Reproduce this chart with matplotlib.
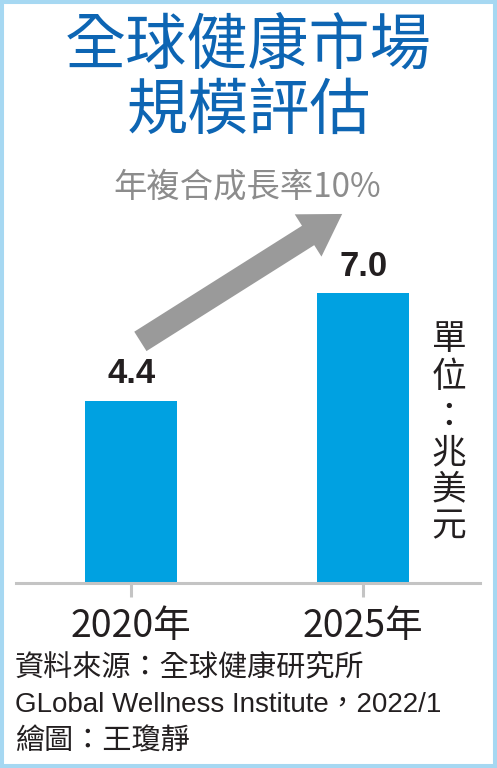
import matplotlib.pyplot as plt
from matplotlib.patches import FancyArrowPatch, Rectangle

plt.rcParams['font.family'] = ['Noto Sans CJK TC', 'DejaVu Sans']

# data
years = ['2020年', '2025年']
values = [4.4, 7.0]
title = '全球健康市場\n規模評估'
subtitle = '年複合成長率10%'
unit_chars = ['單', '位', '：', '兆', '美', '元']
footer = ['資料來源：全球健康研究所',
          'GLobal Wellness Institute，2022/1',
          '繪圖：王瓊靜']

W, H = 497, 768
fig = plt.figure(figsize=(W / 100, H / 100), dpi=100)
fig.patch.set_facecolor('white')

# frame
fig.patches.append(Rectangle((0, 0), 1, 1, transform=fig.transFigure,
                             fill=False, edgecolor='#a6d8f2', linewidth=5.8))

def fx(px):
    return px / W

def fy(py):
    return 1 - py / H

# bars axes: baseline at 583px, 41.4 px per unit
ax = fig.add_axes([fx(16), fy(583), fx(464), 383 / H])
xs = range(len(values))
ax.bar(xs, values, width=0.4, color='#00a1e1', zorder=2)
ax.set_xlim(-0.496, 1.504)
ax.set_ylim(0, 383 / 41.4)
for s in ['top', 'right', 'left']:
    ax.spines[s].set_visible(False)
ax.spines['bottom'].set_color('#c4c4c4')
ax.spines['bottom'].set_linewidth(2.2)
ax.set_yticks([])
ax.set_xticks(list(xs))
ax.set_xticklabels(years, fontsize=27, color='#231f20', fontweight='medium')
ax.tick_params(axis='x', length=10, width=2.2, color='#c4c4c4', pad=7)

for x, v in zip(xs, values):
    ax.text(x, v + 0.25, f'{v:.1f}', ha='center', va='bottom', fontsize=25,
            fontweight='bold', family='Liberation Sans', color='#231f20')

# growth arrow
arr = FancyArrowPatch((0.03, values[0] + 1.4), (0.92, values[1] + 1.95),
                      arrowstyle='simple,head_length=29,head_width=36,tail_width=16.5',
                      mutation_scale=1, color='#9a9a9a', lw=0, zorder=3)
ax.add_patch(arr)

# title and subtitle
for line, py in zip(title.split('\n'), [47, 112]):
    fig.text(0.5, fy(py), line, ha='center', va='center',
             fontsize=44, fontweight='medium', color='#0d65b3')
fig.text(fx(247), fy(187), subtitle, ha='center', va='center',
         fontsize=24, color='#8c8c8c')

# vertical unit label
unit_y = [339, 377, 417, 453, 490, 527]
for ch, py in zip(unit_chars, unit_y):
    fig.text(fx(449), fy(py), ch, ha='center', va='center',
             fontsize=25, color='#231f20')

# footer
for i, line in enumerate(footer):
    fam = ['Liberation Sans', 'Noto Sans CJK TC'] if i == 1 else None
    fig.text(fx(15), fy(668 + 37 * i), line, ha='left', va='center',
             fontsize=20 if i == 1 else 21, color='#231f20', family=fam)

fig.savefig('out.png', dpi=100, facecolor='white')
